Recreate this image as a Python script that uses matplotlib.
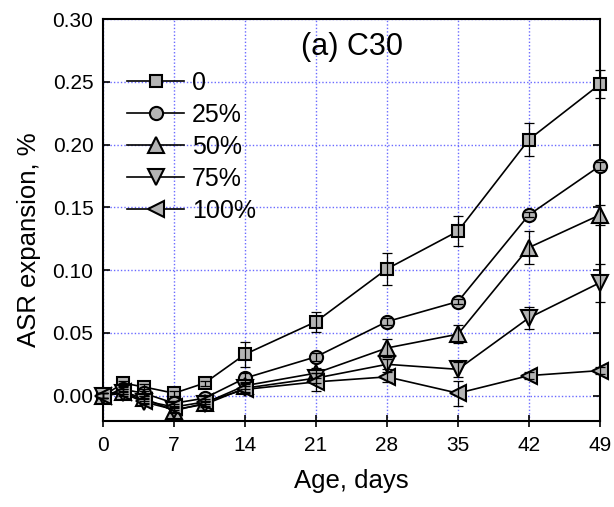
import matplotlib
matplotlib.use("Agg")
import matplotlib.pyplot as plt

plt.rcParams['font.family'] = ['Liberation Sans', 'DejaVu Sans']

days = [0, 2, 4, 7, 10, 14, 21, 28, 35, 42, 49]
labels = ["0", "25%", "50%", "75%", "100%"]

exp_0 = [0.000, 0.010, 0.007, 0.002, 0.010, 0.033, 0.059, 0.101, 0.131, 0.204, 0.248]
exp_25 = [0.000, 0.005, 0.002, -0.006, -0.002, 0.014, 0.031, 0.059, 0.075, 0.144, 0.183]
exp_50 = [0.000, 0.003, -0.002, -0.012, -0.006, 0.008, 0.018, 0.038, 0.049, 0.118, 0.144]
exp_75 = [0.000, 0.002, -0.005, -0.011, -0.007, 0.006, 0.014, 0.025, 0.021, 0.062, 0.090]
exp_100 = [0.000, 0.003, -0.004, -0.009, -0.005, 0.005, 0.011, 0.015, 0.002, 0.016, 0.020]

err_0 = [0.002, 0.002, 0.002, 0.002, 0.002, 0.010, 0.008, 0.013, 0.012, 0.013, 0.011]
err_25 = [0.002, 0.002, 0.002, 0.002, 0.002, 0.004, 0.003, 0.003, 0.002, 0.002, 0.003]
err_50 = [0.002, 0.002, 0.002, 0.002, 0.002, 0.003, 0.004, 0.007, 0.007, 0.013, 0.008]
err_75 = [0.002, 0.002, 0.002, 0.002, 0.002, 0.003, 0.004, 0.004, 0.006, 0.009, 0.015]
err_100 = [0.002, 0.002, 0.002, 0.002, 0.002, 0.003, 0.007, 0.004, 0.010, 0.003, 0.003]

series = [exp_0, exp_25, exp_50, exp_75, exp_100]
errors = [err_0, err_25, err_50, err_75, err_100]
markers = ['s', 'o', '^', 'v', '<']
msizes = [9, 9.5, 11, 11, 11]

fig = plt.figure(figsize=(6.14, 5.07), dpi=100)
ax = fig.add_axes([0.168, 0.170, 0.809, 0.7925])

face = '#b4b4b4'
for vals, errs, m, ms, lab in zip(series, errors, markers, msizes, labels):
    ax.plot(days, vals, color='black', lw=1.2, marker=m, ms=ms,
            mfc=face, mec='black', mew=1.5, label=lab, zorder=3, clip_on=False)
    eb = ax.errorbar(days, vals, yerr=errs, fmt='none', ecolor='black',
                     elinewidth=0.9, capsize=3.5, capthick=0.9, zorder=4)
    for art in eb.lines[1] + eb.lines[2]:
        art.set_clip_on(False)

ax.set_xlim(0, 49)
ax.set_ylim(-0.02, 0.30)
ax.set_xticks(range(0, 50, 7))
ax.set_yticks([0.0, 0.05, 0.10, 0.15, 0.20, 0.25, 0.30])
ax.set_yticklabels(['0.00', '0.05', '0.10', '0.15', '0.20', '0.25', '0.30'])
ax.tick_params(axis='x', direction='inout', length=8, width=1.2, labelsize=15, pad=7)
ax.tick_params(axis='y', direction='in', length=5, width=1.2, labelsize=15, pad=7, right=True)

ax.grid(True, color='#6a6aff', linestyle=(0, (1, 1.5)), linewidth=1.0, zorder=0)
ax.set_axisbelow(True)
for sp in ax.spines.values():
    sp.set_linewidth(1.5)
    sp.set_zorder(2.5)

ax.set_xlabel('Age, days', fontsize=18.5, labelpad=10)
ax.set_ylabel('ASR expansion, %', fontsize=18.5)
ax.yaxis.set_label_coords(-0.125, 0.45)

ax.text(24.5, 0.278, '(a) C30', fontsize=22, ha='center', va='center')

ax.legend(loc='upper left', bbox_to_anchor=(0.048, 0.87), frameon=False,
          fontsize=18, handlelength=2.3, handletextpad=0.3, labelspacing=0.32,
          borderpad=0, borderaxespad=0)

fig.savefig('out.png', dpi=100)
